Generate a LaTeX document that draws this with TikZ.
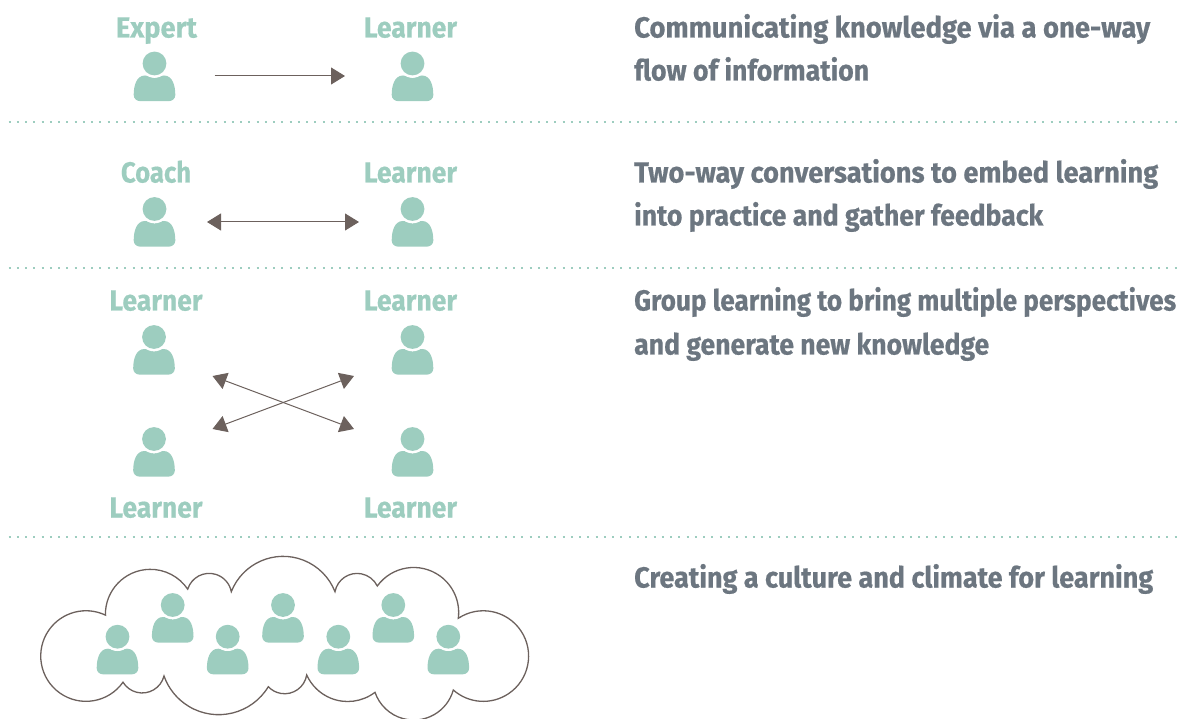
\documentclass[tikz,border=0pt]{standalone}
\usepackage{fontspec}
\usepackage{graphicx}
\setmainfont[BoldFeatures={FakeBold=0.6}]{Fira Sans}
\usetikzlibrary{arrows.meta,svg.path}
\definecolor{teal}{HTML}{9DCDBF}
\definecolor{greytxt}{HTML}{6C7680}
\definecolor{brownln}{HTML}{6C615D}
\newlength\fitlen
\newcommand\fitw[2]{\settowidth\fitlen{#2}\pgfmathsetmacro\fitratio{#1/\fitlen}\scalebox{\fitratio}[1]{#2}}
\tikzset{
  person/.pic={
    \fill[teal] (-14.5,37.6) -- (14.5,37.6)
      .. controls (18,37.6) and (20.8,35) .. (20.8,31.5)
      .. controls (20.8,22) and (18,12) .. (9.5,12)
      .. controls (5,12) and (4,14.5) .. (0,14.5)
      .. controls (-4,14.5) and (-5,12) .. (-9.5,12)
      .. controls (-18,12) and (-20.8,22) .. (-20.8,31.5)
      .. controls (-20.8,35) and (-18,37.6) .. (-14.5,37.6) -- cycle;
    \fill[white] (0,0) circle[radius=14.3];
    \fill[teal] (0,0) circle[radius=11.9];
  },
  role/.style={text=teal,font=\fontsize{29}{30}\selectfont\bfseries,anchor=base,inner sep=0pt},
  desc/.style={text=greytxt,font=\fontsize{29}{30}\selectfont\bfseries,anchor=base west,inner sep=0pt},
  link/.style={draw=brownln,line width=1pt,{Triangle[length=14pt,width=17pt]}-{Triangle[length=14pt,width=17pt]}},
  oneway/.style={draw=brownln,line width=1pt,-{Triangle[length=14pt,width=17pt]}},
  sep/.style={draw=teal,line width=2pt,dash pattern=on 2pt off 6.27pt},
}
\begin{document}
\begin{tikzpicture}[x=1pt,y=-1pt]
\useasboundingbox (0,0) rectangle (1181,719);
% separators
\foreach \n/\yy in {a/122.5,b/268.5,c/536.5}{
  \coordinate (sl\n) at (8.5,\yy); \coordinate (sr\n) at (1181,\yy);
  \draw[sep] (sl\n) -- (sr\n);
}
% people
\foreach \n/\px/\py in {p1/154.5/63.5,p2/412.5/63.5,p3/154.5/209,p4/412.5/209,p5/154/337,p6/412.5/337,p7/154/439,p8/412.5/439,
  c1/117.5/636.7,c2/172.7/605,c3/227.7/636.7,c4/283/605,c5/338.3/636.7,c6/393.3/605,c7/448.3/636.7}{
  \coordinate (\n) at (\px,\py);
  \pic at (\n) {person};
}
% roles
\node[role] (r1) at (156.5,37.5) {\fitw{81}{Expert}};
\node[role] (r2) at (410.5,37.5) {\fitw{93}{Learner}};
\node[role] (r3) at (156,182.5) {\fitw{70}{Coach}};
\node[role] (r4) at (410.5,182.5) {\fitw{93}{Learner}};
\node[role] (r5) at (156,310.5) {\fitw{93}{Learner}};
\node[role] (r6) at (410.5,310.5) {\fitw{93}{Learner}};
\node[role] (r7) at (156,517.5) {\fitw{93}{Learner}};
\node[role] (r8) at (410.5,517.5) {\fitw{93}{Learner}};
% descriptions
\node[desc] (d1) at (634,37.5) {\fitw{516}{Communicating knowledge via a one-way}};
\node[desc] (d2) at (634,80.5) {\fitw{235}{flow of information}};
\node[desc] (d3) at (634,182.5) {\fitw{524}{Two-way conversations to embed learning}};
\node[desc] (d4) at (634,225.5) {\fitw{409}{into practice and gather feedback}};
\node[desc] (d5) at (634,310.5) {\fitw{542}{Group learning to bring multiple perspectives}};
\node[desc] (d6) at (634,354.5) {\fitw{355}{and generate new knowledge}};
\node[desc] (d7) at (634,587.5) {\fitw{519}{Creating a culture and climate for learning}};
% arrows
\coordinate (e1) at (214.5,76); \coordinate (e2) at (345,76);
\draw[oneway] (e1) -- (e2);
\coordinate (e3) at (207,222); \coordinate (e4) at (359,222);
\draw[link] (e3) -- (e4);
\coordinate (x1) at (212.5,376); \coordinate (x2) at (354,429);
\coordinate (x3) at (212.5,429); \coordinate (x4) at (354,376);
\draw[link] (x1) -- (x2);
\draw[link] (x3) -- (x4);
% cloud
\begin{scope}[yscale=-1]
\draw[brownln,line width=1.3pt,line join=miter] svg[scale=1] {M 105.4 615.1
 A 45 45 0 0 1 187.7 588.7
 A 22.5 22.5 0 0 1 231.3 591.7
 A 55.7 55.7 0 0 1 335 591.7
 A 22.5 22.5 0 0 1 377.3 586
 A 45 45 0 0 1 458.3 618.3
 A 45.3 45.3 0 1 1 453.3 690
 A 41 41 0 0 1 375 692.3
 A 45 45 0 0 1 306.7 675
 A 22.4 22.4 0 0 1 268.3 686.7
 A 58 58 0 0 1 164 676
 A 22.5 22.5 0 0 1 123 682.2
 A 45.3 45.3 0 1 1 105.4 615.1 Z};
\end{scope}
\end{tikzpicture}
\end{document}
